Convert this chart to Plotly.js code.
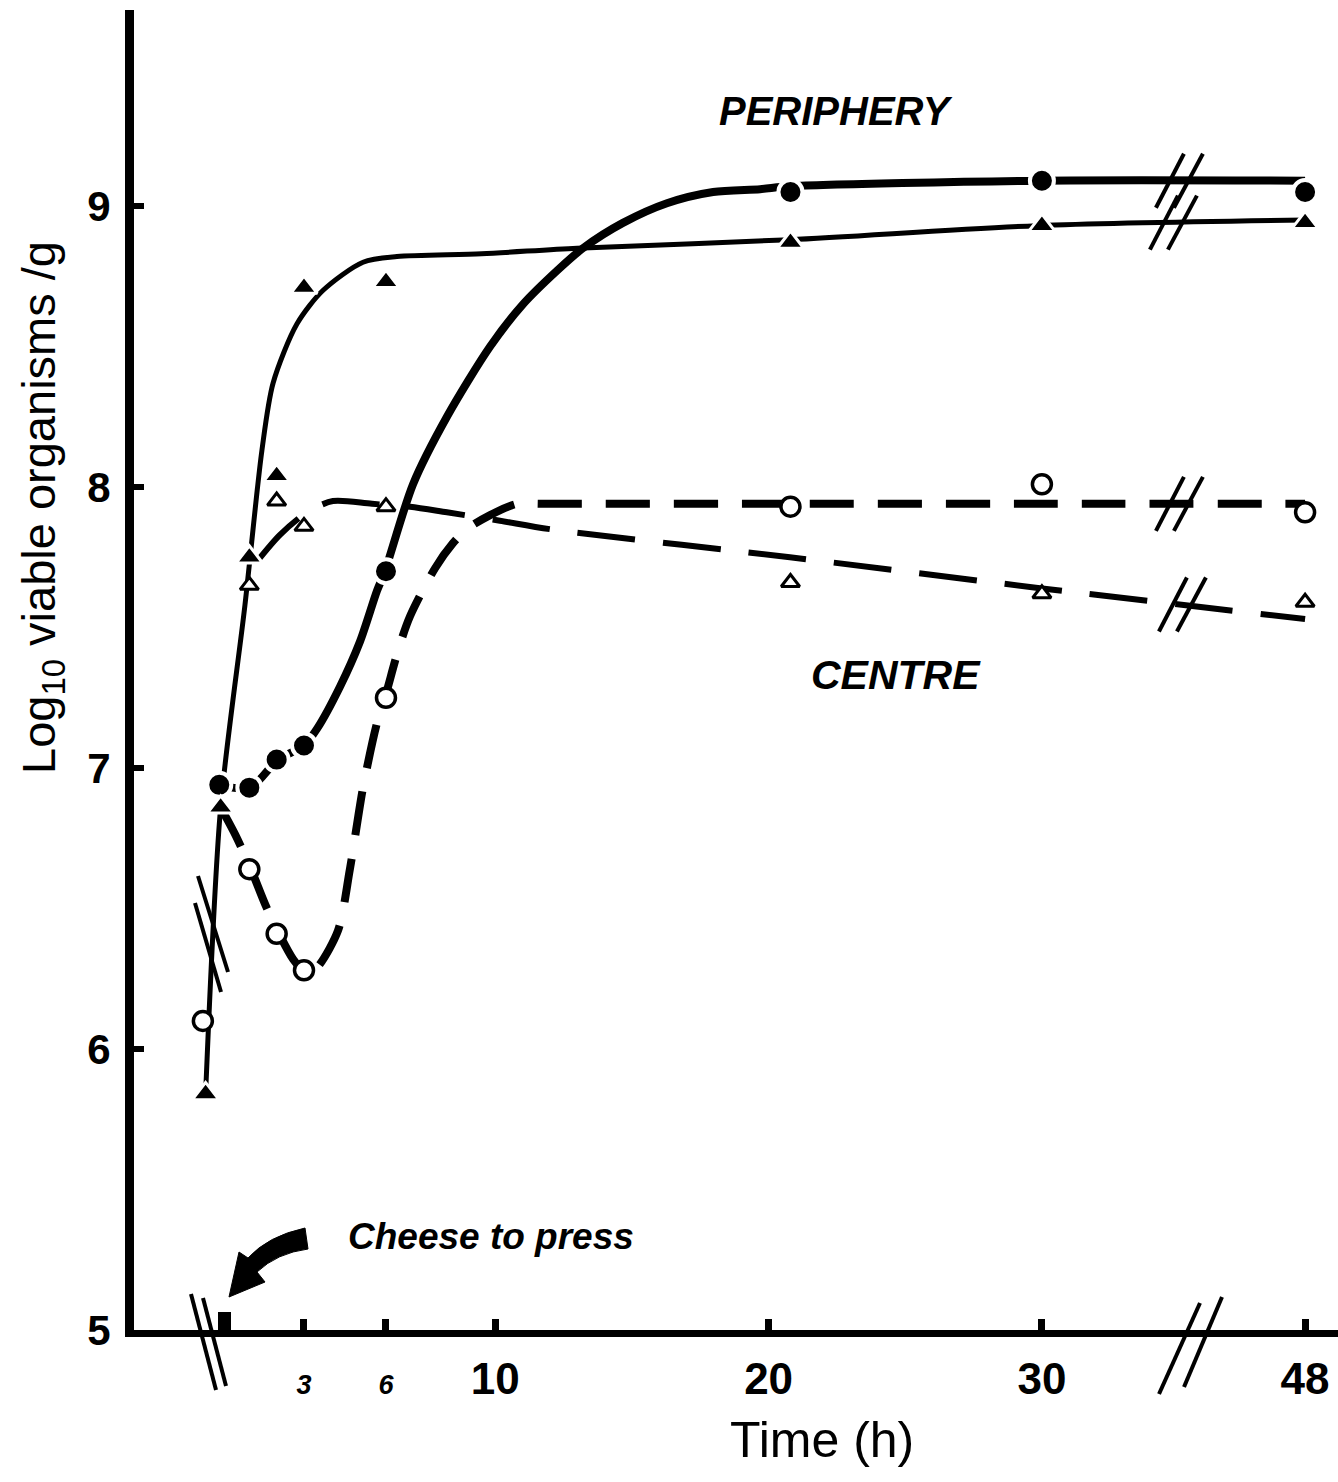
<!DOCTYPE html>
<html>
<head>
<meta charset="utf-8">
<script src="https://cdn.plot.ly/plotly-3.0.1.min.js"></script>
<style>
  html, body { margin: 0; padding: 0; background: #ffffff; }
  #chart { width: 1338px; height: 1482px; }
</style>
</head>
<body>
<div id="chart"></div>
<script>
// ---------------- DATA ----------------
// Time in hours; 48 h sits beyond an axis break.
const tickHours = [3, 6, 10, 20, 30, 48];
const tickLabels = ['3', '6', '10', '20', '30', '48'];

// Measured points
const periCircleT = [-0.1, 1, 2, 3, 6, 20.8, 30, 48];
const periCircleY = [6.94, 6.93, 7.03, 7.08, 7.70, 9.05, 9.09, 9.05];

const periTriT = [-0.6, -0.05, 1, 2, 3, 6, 20.8, 30, 48];
const periTriY = [5.84, 6.86, 7.75, 8.04, 8.71, 8.73, 8.87, 8.93, 8.94];

const centCircleT = [-0.7, 1, 2, 3, 6, 20.8, 30, 48];
const centCircleY = [6.10, 6.64, 6.41, 6.28, 7.25, 7.93, 8.01, 7.91];

const centTriT = [1, 2, 3, 6, 20.8, 30, 48];
const centTriY = [7.65, 7.95, 7.86, 7.93, 7.66, 7.62, 7.59];

// Hand-drawn curves
const periCircleCurveT = [-0.15, 1.02, 2.05, 3.0, 3.48, 4.32, 5.05, 5.67, 5.96, 6.99, 8.23, 9.81, 11.01, 12.26, 13.21, 14.67, 16.28, 17.97, 19.69, 20.78, 29.93, 48];
const periCircleCurveY = [6.94, 6.93, 7.03, 7.08, 7.14, 7.29, 7.45, 7.63, 7.70, 8.01, 8.25, 8.50, 8.65, 8.77, 8.85, 8.94, 9.01, 9.05, 9.06, 9.07, 9.09, 9.09];

const periTriCurveT = [-0.6, -0.05, 0.84, 1.46, 1.87, 2.74, 3.70, 5.16, 6.40, 9.5, 12.99, 20.78, 29.82, 48];
const periTriCurveY = [5.84, 6.86, 7.58, 8.13, 8.37, 8.58, 8.70, 8.80, 8.82, 8.83, 8.85, 8.88, 8.93, 8.95];

const centCircleCurveT = [-0.05, 0.5, 1.06, 1.6, 2.09, 2.6, 3.1, 3.48, 4.24, 4.68, 5.16, 5.67, 5.96, 6.48, 6.88, 7.79, 8.45, 8.96, 9.81, 10.79, 11.64, 20.78, 29.93, 48];
const centCircleCurveY = [6.86, 6.76, 6.64, 6.51, 6.41, 6.32, 6.27, 6.29, 6.42, 6.64, 6.93, 7.16, 7.25, 7.43, 7.54, 7.71, 7.80, 7.85, 7.90, 7.94, 7.94, 7.94, 7.94, 7.94];

const centTriCurveT = [1.32, 2.12, 3.11, 4.06, 5.49, 6.88, 8.23, 10.17, 12.0, 20.78, 29.93, 48];
const centTriCurveY = [7.74, 7.83, 7.91, 7.95, 7.94, 7.93, 7.91, 7.88, 7.85, 7.75, 7.64, 7.53];

// ---------------- LAYOUT GEOMETRY ----------------
const W = 1338, H = 1482;
const L = 134, R = 1338, T = 10, B = 1330;   // plot area in pixels
const PX_PER_H = 27.33, ZERO_PX = 222;        // x scale
const PX_PER_LOG = 281;                       // y scale
const X0 = (L - ZERO_PX) / PX_PER_H, X1 = (R - ZERO_PX) / PX_PER_H;
const Y0 = 5, Y1 = 5 + (B - T) / PX_PER_LOG;

// axis break: times beyond BREAK_AT are shifted left by BREAK_GAP
const BREAK_AT = 35, BREAK_GAP = 8.37;
const pos = t => (t > BREAK_AT ? t - BREAK_GAP : t);
const P = arr => arr.map(pos);

// pixel -> paper helpers for decorations
const px = x => (x - L) / (R - L);
const py = y => (B - y) / (B - T);
const posPx = p => L + (p - X0) / (X1 - X0) * (R - L);
const valPy = v => B - (v - Y0) / (Y1 - Y0) * (B - T);

const FONT = "'Liberation Sans', Arial, Helvetica, sans-serif";
const NARROW = "'Liberation Sans Narrow', 'Arial Narrow', 'Liberation Sans', Arial, sans-serif";

// ---------------- TRACES ----------------
const curve = (t, y, width, dash) => ({
  x: P(t), y: y, mode: 'lines', type: 'scatter', hoverinfo: 'skip', showlegend: false,
  line: { color: '#000', width: width, dash: dash, shape: 'spline', smoothing: 0.8 }
});

const traces = [
  curve(periTriCurveT, periTriCurveY, 5, 'solid'),
  curve(periCircleCurveT, periCircleCurveY, 8, 'solid'),
  curve(centCircleCurveT, centCircleCurveY, 8, '44px,24px'),
  curve(centTriCurveT, centTriCurveY, 6, '58px,28px'),
  { name: 'Periphery ●', x: P(periCircleT), y: periCircleY, mode: 'markers', type: 'scatter', showlegend: false,
    marker: { symbol: 'circle', size: 24, color: '#000', line: { color: '#fff', width: 4 } } },
  { name: 'Periphery ▲', x: P(periTriT), y: periTriY, mode: 'markers', type: 'scatter', showlegend: false,
    marker: { symbol: 'triangle-up', size: 23, color: '#000', line: { color: '#fff', width: 3 } } },
  { name: 'Centre ○', x: P(centCircleT), y: centCircleY, mode: 'markers', type: 'scatter', showlegend: false,
    marker: { symbol: 'circle', size: 19, color: '#fff', line: { color: '#000', width: 3.5 } } },
  { name: 'Centre △', x: P(centTriT), y: centTriY, mode: 'markers', type: 'scatter', showlegend: false,
    marker: { symbol: 'triangle-up', size: 16, color: '#fff', line: { color: '#000', width: 3 } } }
];

// ---------------- DECORATIONS ----------------
const shapes = [];
const seg = (x1, y1, x2, y2, w) => shapes.push({
  type: 'line', xref: 'paper', yref: 'paper', layer: 'above',
  x0: px(x1), y0: py(y1), x1: px(x2), y1: py(y2), line: { color: '#000', width: w }
});

// break marks on the four curves, at the break position
function curveAt(tArr, yArr, p) {
  const ps = P(tArr);
  for (let i = 0; i < ps.length - 1; i++) {
    if (p >= ps[i] && p <= ps[i + 1]) {
      const f = (p - ps[i]) / (ps[i + 1] - ps[i]);
      return yArr[i] + f * (yArr[i + 1] - yArr[i]);
    }
  }
  return yArr[yArr.length - 1];
}
const breakPos = BREAK_AT + 0.05;
[[periCircleCurveT, periCircleCurveY, 0], [periTriCurveT, periTriCurveY, -6],
 [centCircleCurveT, centCircleCurveY, 0], [centTriCurveT, centTriCurveY, 3]].forEach(([t, y, dx]) => {
  const cx = posPx(breakPos) + dx, cy = valPy(curveAt(t, y, breakPos));
  seg(cx - 24, cy + 27, cx + 4, cy - 27, 4);
  seg(cx - 6, cy + 27, cx + 23, cy - 27, 4);
});

// x-axis break marks
seg(1159, 1394, 1200, 1303, 4);
seg(1184, 1387, 1222, 1297, 4);
seg(191, 1294, 216, 1390, 4);
seg(203, 1298, 226, 1386, 4);
// break marks on the initial rise
seg(198, 876, 228, 972, 4);
seg(195, 903, 221, 992, 4);

// bigger tick at time zero (cheese to press)
shapes.push({ type: 'rect', xref: 'paper', yref: 'paper', layer: 'above',
  x0: px(218), x1: px(231), y0: py(1330), y1: py(1312), fillcolor: '#000', line: { width: 0 } });

// curved arrow
shapes.push({ type: 'path', xref: 'paper', yref: 'paper', layer: 'above', fillcolor: '#000',
  line: { color: '#000', width: 1 },
  path: `M ${px(305)} ${py(1228)} Q ${px(268)} ${py(1236)} ${px(248)} ${py(1258)} L ${px(239)} ${py(1252)} L ${px(229)} ${py(1297)} L ${px(265)} ${py(1282)} L ${px(257)} ${py(1272)} Q ${px(277)} ${py(1253)} ${px(308)} ${py(1249)} Z` });

const ann = (text, x, y, font, extra) => Object.assign({
  text: text, x: px(x), y: py(y), xref: 'paper', yref: 'paper', showarrow: false,
  xanchor: 'center', yanchor: 'middle', font: font
}, extra || {});

const annotations = [
  ann('<b><i>PERIPHERY</i></b>', 836, 111, { family: FONT, size: 40, color: '#000' }),
  ann('<b><i>CENTRE</i></b>', 896, 675, { family: FONT, size: 41, color: '#000' }),
  ann('<b><i>Cheese to press</i></b>', 491, 1236, { family: FONT, size: 37, color: '#000' }),
  ann('Log<sub>10</sub> viable organisms /g', 42, 508, { family: NARROW, size: 47, color: '#000' }, { textangle: -90 }),
  ann('Time (h)', 822, 1440, { family: NARROW, size: 50, color: '#000' })
];

const tickText = tickLabels.map(s => (s === '3' || s === '6')
  ? `<b><i><span style="font-size:27px">${s}</span></i></b>` : `<b>${s}</b>`);

const layout = {
  width: W, height: H,
  margin: { l: L, r: W - R, t: T, b: H - B, pad: 0 },
  paper_bgcolor: '#fff', plot_bgcolor: '#fff',
  showlegend: false,
  xaxis: {
    range: [X0, X1], showgrid: false, zeroline: false,
    showline: true, linecolor: '#000', linewidth: 7,
    tickmode: 'array', tickvals: P(tickHours), ticktext: tickText,
    ticks: 'inside', ticklen: 11, tickwidth: 7, tickcolor: '#000',
    tickfont: { family: NARROW, size: 44, color: '#000' },
    ticklabelstandoff: 4
  },
  yaxis: {
    range: [Y0, Y1], showgrid: false, zeroline: false,
    showline: true, linecolor: '#000', linewidth: 9,
    tickmode: 'array', tickvals: [5, 6, 7, 8, 9], ticktext: ['<b>5</b>', '<b>6</b>', '<b>7</b>', '<b>8</b>', '<b>9</b>'],
    ticks: 'inside', ticklen: 10, tickwidth: 6, tickcolor: '#000',
    tickfont: { family: FONT, size: 42, color: '#000' },
    ticklabelstandoff: 6
  },
  shapes: shapes,
  annotations: annotations
};

Plotly.newPlot('chart', traces, layout, { staticPlot: true, displayModeBar: false });
</script>
</body>
</html>
